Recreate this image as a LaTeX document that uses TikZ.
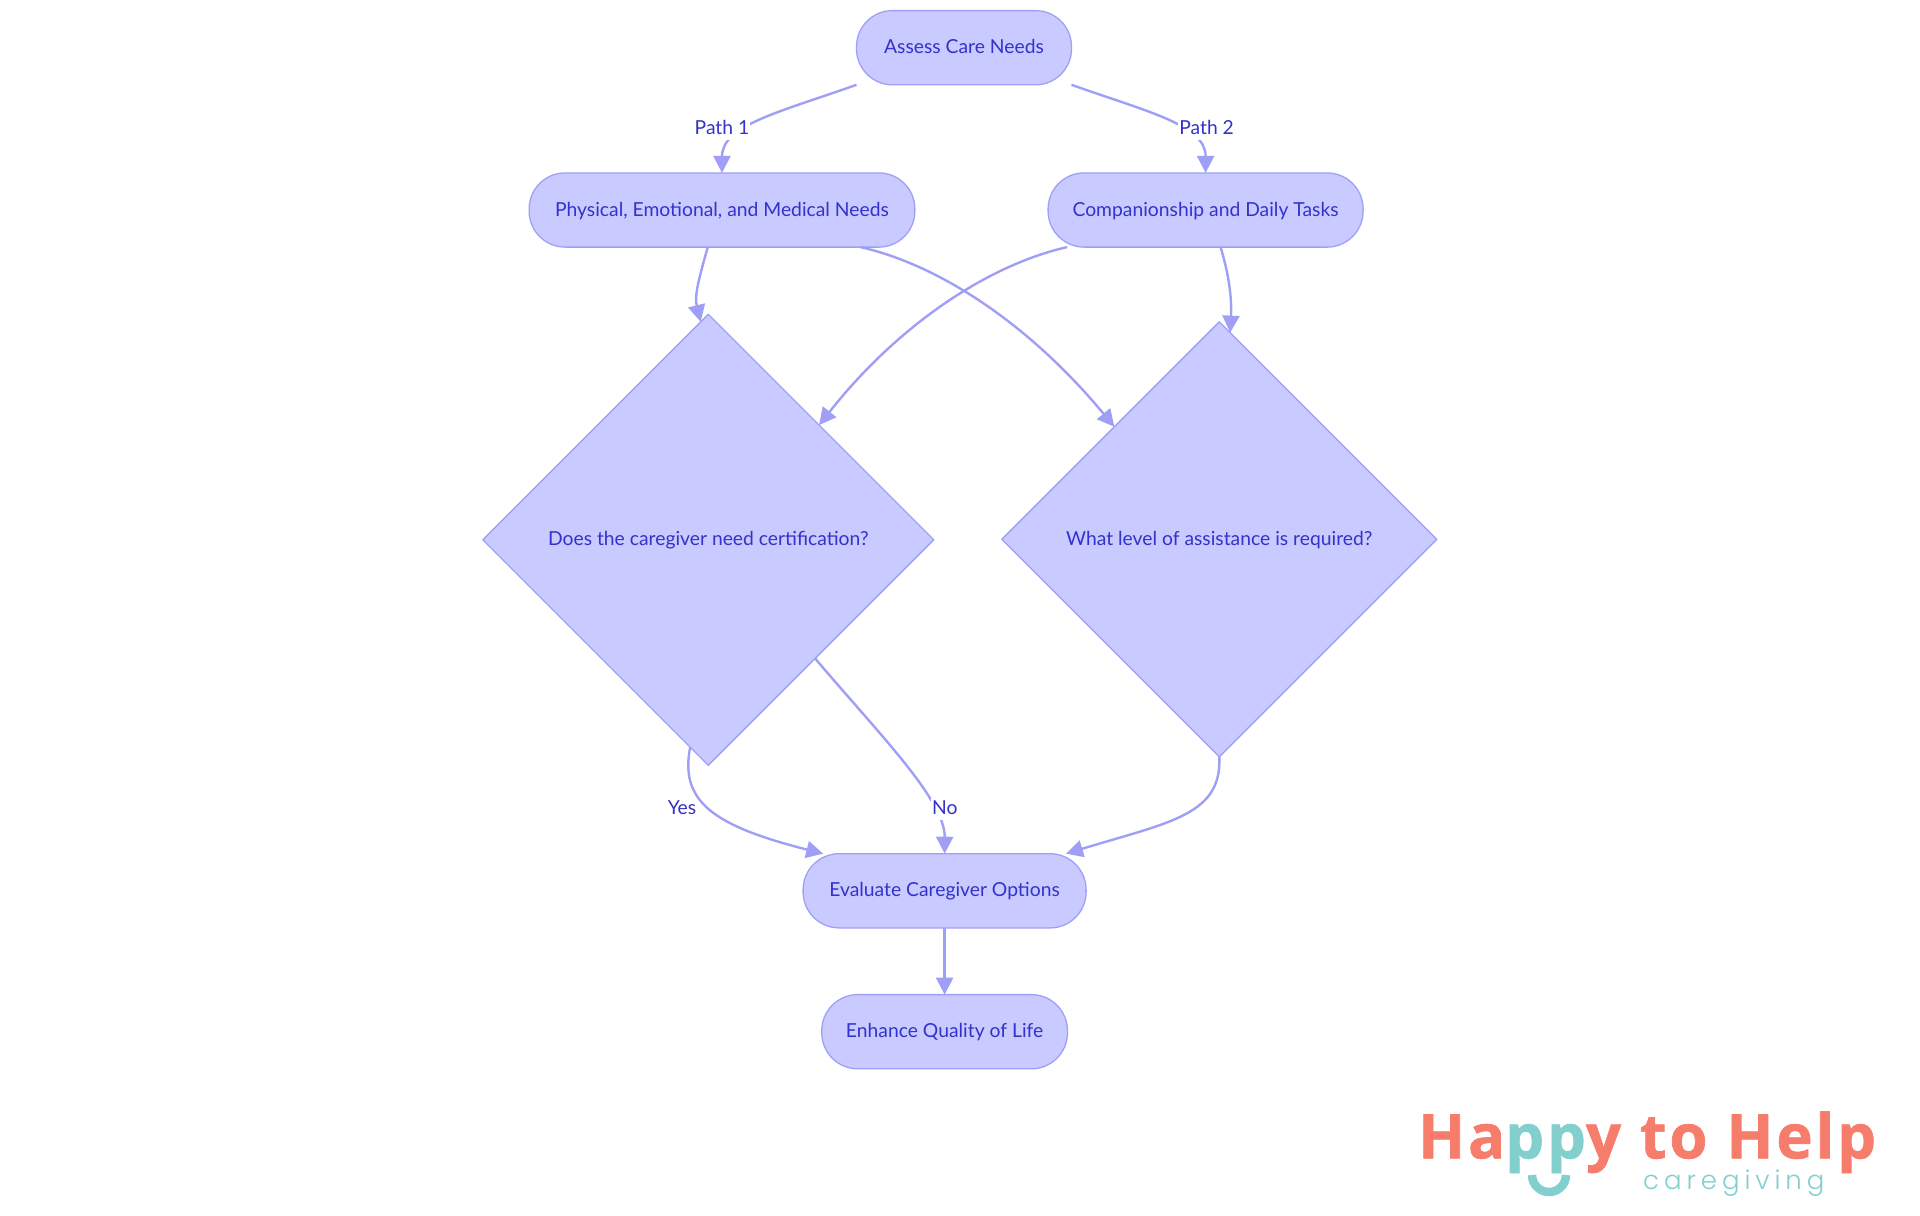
\documentclass[tikz,border=0pt]{standalone}
\usepackage{fontspec}
\setmainfont{Lato}
\newfontfamily\logobold{Open Sans}[UprightFont=* Bold,FakeBold=1.2,LetterSpace=4.7]
\newfontfamily\logotag{Poppins}[UprightFont=* Light,LetterSpace=19]
\usetikzlibrary{arrows.meta,shapes.geometric}
\definecolor{nodefill}{HTML}{C9CAFF}
\definecolor{nodeline}{HTML}{9FA0F5}
\definecolor{nodetext}{HTML}{3232CC}
\definecolor{logocoral}{HTML}{F67C6C}
\definecolor{logoteal}{HTML}{82CFCE}
\begin{document}
\begin{tikzpicture}[x=1bp,y=-1bp,>={Triangle[length=17bp,width=17bp]},line join=bevel,
  flownode/.style={draw=nodeline,fill=nodefill,text=nodetext,line width=1.3bp,rounded corners=36bp,
    inner sep=0pt,outer sep=0pt,minimum height=74.2bp,text height=16.5bp,text depth=4.5bp,
    font=\fontsize{19.3bp}{24bp}\selectfont},
  flowdiamond/.style={draw=nodeline,fill=nodefill,text=nodetext,line width=1.3bp,diamond,aspect=1,
    inner sep=0pt,outer sep=0pt,text height=16.5bp,text depth=4.5bp,
    font=\fontsize{19.3bp}{24bp}\selectfont},
  edgeline/.style={draw=nodeline,line width=2.4bp,->},
  edgelabel/.style={fill=white,text=nodetext,inner sep=1bp,text height=15.5bp,text depth=4.5bp,
    font=\fontsize{19.3bp}{24bp}\selectfont}]
  \useasboundingbox (0,0) rectangle (1920,1215);
  % Node: Assess
  \node [flownode,minimum width=215bp] (Assess) at (964,47.7) {Assess Care Needs};
  % Node: PhysNeeds
  \node [flownode,minimum width=385.7bp] (PhysNeeds) at (722,210) {Physical, Emotional, and Medical Needs};
  % Node: Companion
  \node [flownode,minimum width=315bp] (Companion) at (1205.6,210) {Companionship and Daily Tasks};
  % Node: CertCheck
  \node [flowdiamond,minimum width=451bp,minimum height=451bp] (CertCheck) at (708.3,539.8) {Does the caregiver need certification?};
  % Node: LevelCheck
  \node [flowdiamond,minimum width=435bp,minimum height=435bp] (LevelCheck) at (1219.3,539.3) {What level of assistance is required?};
  % Node: Evaluate
  \node [flownode,minimum width=283bp] (Evaluate) at (944.6,890.8) {Evaluate Caregiver Options};
  % Node: Enhance
  \node [flownode,minimum width=245.7bp] (Enhance) at (944.6,1031.7) {Enhance Quality of Life};
  % Edge: Assess -> PhysNeeds
  \draw [edgeline] (Assess.south west) .. controls (780,112) and (722,125) .. (PhysNeeds.north);
  % Edge: Assess -> Companion
  \draw [edgeline] (Assess.south east) .. controls (1148,112) and (1205.6,125) .. (Companion.north);
  % Edge: PhysNeeds -> CertCheck
  \draw [edgeline] (PhysNeeds.-111.5) .. controls (700,275) and (694,295) .. (CertCheck.92.9);
  % Edge: PhysNeeds -> LevelCheck
  \draw [edgeline] (PhysNeeds.-15.9) .. controls (940,265) and (1030,325) .. (LevelCheck.133.4);
  % Edge: Companion -> CertCheck
  \draw [edgeline] (Companion.-165.2) .. controls (988,265) and (898,325) .. (CertCheck.46.4);
  % Edge: Companion -> LevelCheck
  \draw [edgeline] (Companion.-68.3) .. controls (1228,272) and (1232,295) .. (LevelCheck.87);
  % Edge: CertCheck -> Evaluate
  \draw [edgeline] (CertCheck.-95.5) .. controls (680,800) and (710,825) .. (Evaluate.163.5);
  \draw [edgeline] (CertCheck.-48.6) .. controls (880,735) and (945,800) .. (Evaluate.north);
  % Edge: LevelCheck -> Evaluate
  \draw [edgeline] (LevelCheck.south) .. controls (1222,815) and (1170,822) .. (Evaluate.17.3);
  % Edge: Evaluate -> Enhance
  \draw [edgeline] (Evaluate.south) -- (Enhance.north);
  % Edge labels
  \node [edgelabel] (PathOne) at (722,128.5) {Path 1};
  \node [edgelabel] (PathTwo) at (1206.6,128.5) {Path 2};
  \node [edgelabel] (YesLabel) at (682,809) {Yes};
  \node [edgelabel] (NoLabel) at (944.9,809) {No};
  % Logo
  \node [anchor=base west,inner sep=0pt,font=\logobold\fontsize{61.5bp}{70bp}\selectfont,text=logocoral] (LogoName) at (1418,1158.3)
    {Ha\textcolor{logoteal}{pp}y to Help};
  \node [anchor=base west,inner sep=0pt,font=\logotag\fontsize{26bp}{30bp}\selectfont,text=logoteal] (LogoTag) at (1643,1189)
    {caregiving};
  \draw [draw=logoteal,line width=8.5bp] (1532,1175) arc [start angle=180,end angle=0,radius=17];
\end{tikzpicture}
\end{document}
